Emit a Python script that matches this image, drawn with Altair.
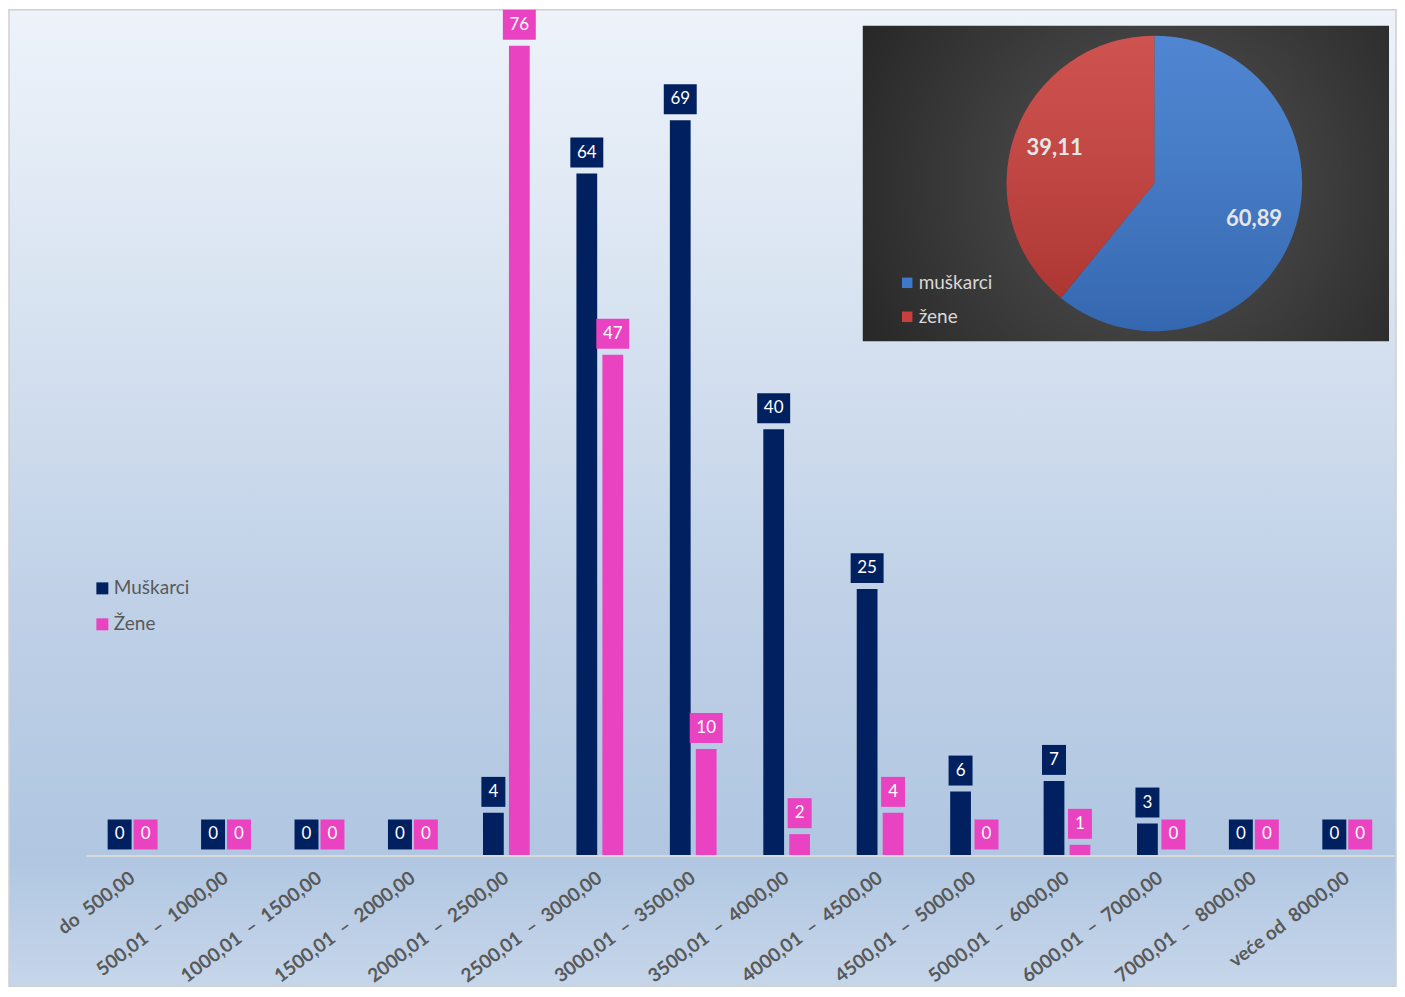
import altair as alt
import pandas as pd

# ---------------- data ----------------
categories = [
    "do  500,00",
    "500,01  –  1000,00",
    "1000,01  –  1500,00",
    "1500,01  –  2000,00",
    "2000,01  –  2500,00",
    "2500,01  –  3000,00",
    "3000,01  –  3500,00",
    "3500,01  –  4000,00",
    "4000,01  –  4500,00",
    "4500,01  –  5000,00",
    "5000,01  –  6000,00",
    "6000,01  –  7000,00",
    "7000,01  –  8000,00",
    "veće od  8000,00",
]
muskarci = [0, 0, 0, 0, 4, 64, 69, 40, 25, 6, 7, 3, 0, 0]
zene = [0, 0, 0, 0, 76, 47, 10, 2, 4, 0, 1, 0, 0, 0]
series_names = ["Muškarci", "Žene"]

pie_labels = ["muškarci", "žene"]
pie_values = [60.89, 39.11]
pie_text = ["60,89", "39,11"]

# ---------------- styling ----------------
NAVY = "#002060"
PINK = "#EA43C1"
W, H = 1389, 978
FONT = "Lato"

# keep the wide spacing of the labels visible in SVG
cats_disp = [c.replace(" ", "\u00a0") for c in categories]

rows = []
for c, m, z in zip(cats_disp, muskarci, zene):
    for s, v in zip(series_names, [m, z]):
        rows.append({"cat": c, "series": s, "value": v,
                     "label": str(v), "nd": str(len(str(v)))})
df = pd.DataFrame(rows)
one = pd.DataFrame({"k": [0]})

bg_grad = {
    "gradient": "linear", "x1": 0, "y1": 0, "x2": 0, "y2": 1,
    "stops": [
        {"offset": 0.0, "color": "#eef3fa"},
        {"offset": 0.3, "color": "#d8e3f1"},
        {"offset": 0.6, "color": "#c0d1e7"},
        {"offset": 0.866, "color": "#b0c6e1"},
        {"offset": 1.0, "color": "#c6d6ea"},
    ],
}
bg = alt.Chart(one).mark_rect(fill=bg_grad, stroke="#d0d0d0", strokeWidth=1.5).encode(
    x=alt.value(0), x2=alt.value(W), y=alt.value(0), y2=alt.value(H)
)

inset_grad = {
    "gradient": "radial", "x1": 0.55, "y1": 0.5, "r1": 0, "x2": 0.55, "y2": 0.5, "r2": 0.75,
    "stops": [
        {"offset": 0.0, "color": "#555555"},
        {"offset": 1.0, "color": "#1e1e1e"},
    ],
}
inset = alt.Chart(one).mark_rect(fill=inset_grad).encode(
    x=alt.value(855), x2=alt.value(1382), y=alt.value(16), y2=alt.value(332)
)

xenc = alt.X(
    "cat:N", sort=cats_disp,
    scale=alt.Scale(range=[77, 1387], paddingInner=0.5, paddingOuter=0.25),
    axis=alt.Axis(
        title=None, offset=-131, labelAngle=-37, labelAlign="right",
        labelBaseline="middle", labelPadding=20, labelFont=FONT,
        labelFontSize=19, labelFontWeight="bold", labelColor="#595959",
        labelLimit=0, labelOverlap=False, labelBound=False, ticks=False,
        domainColor="#d9d9d9", domainWidth=2, grid=False, zindex=1,
    ),
)
xoff = alt.XOffset("series:N", sort=series_names, scale=alt.Scale(paddingInner=0.2))
yenc = alt.Y("value:Q", scale=alt.Scale(domain=[-12.28, 79.38], nice=False), axis=None)
cenc = alt.Color(
    "series:N",
    scale=alt.Scale(domain=series_names, range=[NAVY, PINK]),
    legend=alt.Legend(
        title=None, orient="none", legendX=84, legendY=570,
        symbolType="square", symbolSize=144, symbolStrokeWidth=0,
        labelFont=FONT, labelFontSize=19, labelColor="#595959",
        rowPadding=16, labelOffset=2,
    ),
)

base = alt.Chart(df)
bars = base.mark_bar().encode(x=xenc, xOffset=xoff, y=yenc, color=cenc)

p1 = "M-0.8,-1H0.8V1H-0.8Z"
p2 = "M-1.1,-1H1.1V1H-1.1Z"
boxes = base.mark_point(filled=True, opacity=1, size=900, yOffset=-21, strokeWidth=0).encode(
    x=xenc, xOffset=xoff, y=yenc, color=cenc,
    shape=alt.Shape("nd:N", scale=alt.Scale(domain=["1", "2"], range=[p1, p2]), legend=None),
)
texts = base.mark_text(color="white", fontSize=17, font=FONT, yOffset=-21,
                       baseline="middle", align="center").encode(
    x=xenc, xOffset=xoff, y=yenc, text="label:N"
)
bar_group = alt.layer(bars, boxes, texts)

# ---------------- pie ----------------
pie_df = pd.DataFrame({"sex": pie_labels, "share": pie_values, "txt": pie_text, "ord": [0, 1]})
pbase = alt.Chart(pie_df).encode(
    theta=alt.Theta("share:Q", stack=True),
    order=alt.Order("ord:Q"),
    x=alt.value(1147), y=alt.value(174),
)
arcs = pbase.mark_arc(radius=148).encode(
    color=alt.Color(
        "sex:N",
        scale=alt.Scale(domain=pie_labels, range=["#3c78cc", "#c93f3b"]),
        legend=alt.Legend(
            title=None, orient="none", legendX=890, legendY=264,
            symbolType="square", symbolSize=110, symbolStrokeWidth=0,
            labelFont=FONT, labelFontSize=19, labelColor="#d9d9d9",
            rowPadding=14, labelOffset=2,
        ),
    )
)
shade = {
    "gradient": "linear", "x1": 0, "y1": 0, "x2": 0, "y2": 1,
    "stops": [
        {"offset": 0.0, "color": "rgba(255,255,255,0.10)"},
        {"offset": 1.0, "color": "rgba(0,0,0,0.14)"},
    ],
}
overlay = pbase.mark_arc(radius=148, fill=shade)
ptext = pbase.mark_text(radius=106, fontSize=22, fontWeight="bold", font=FONT,
                        color="#e6e6e6").encode(text="txt:N")
pie_group = alt.layer(arcs, overlay, ptext)

chart = (
    alt.layer(bg, inset, bar_group, pie_group)
    .resolve_scale(color="independent")
    .properties(width=W, height=H, padding=0)
    .configure_view(stroke=None)
)

chart.save("out.html", embed_options={"renderer": "svg", "actions": False})
